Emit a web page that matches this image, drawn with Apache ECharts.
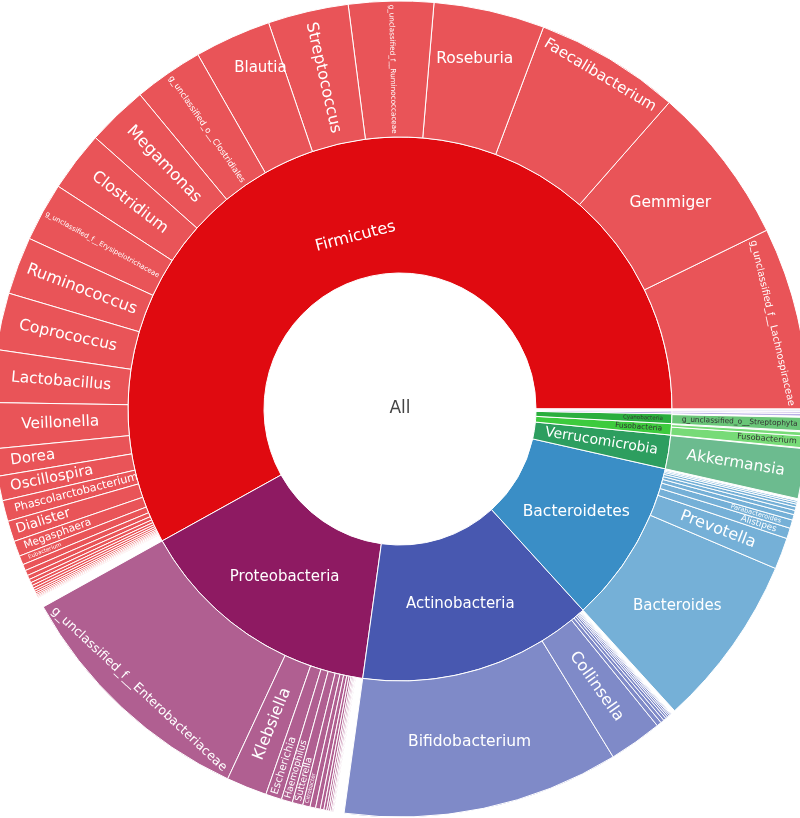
<!DOCTYPE html>
<html>
<head>
<meta charset="utf-8">
<script src="https://cdn.jsdelivr.net/npm/echarts@6/dist/echarts.min.js"></script>
<style>
  html, body { margin: 0; padding: 0; background: #ffffff; }
  #chart { width: 800px; height: 818px; }
</style>
</head>
<body>
<div id="chart"></div>
<script>
// ---------------- DATA (relative abundance, %) ----------------
const rootName = 'All';

const phyla = ['Firmicutes', 'Proteobacteria', 'Actinobacteria', 'Bacteroidetes', 'Verrucomicrobia',
  'Fusobacteria', 'Cyanobacteria', 'Tenericutes', 'Synergistetes', 'Lentisphaerae', 'Euryarchaeota'];
const phylumValues = [58.06, 14.75, 13.94, 9.72, 2.00, 0.67, 0.58, 0.11, 0.08, 0.06, 0.03];

const firmicutesGenera = ['g_unclassified_f__Lachnospiraceae', 'Gemmiger', 'Faecalibacterium', 'Roseburia',
  'g_unclassified_f__Ruminococcaceae', 'Streptococcus', 'Blautia', 'g_unclassified_o__Clostridiales',
  'Megamonas', 'Clostridium', 'g_unclassified_f__Erysipelotrichaceae', 'Ruminococcus', 'Coprococcus',
  'Lactobacillus', 'Veillonella', 'Dorea', 'Oscillospira', 'Phascolarctobacterium', 'Dialister',
  'Megasphaera', 'Eubacterium', 'Anaerostipes', 'Butyricicoccus', 'Lachnospira', 'Enterococcus',
  'Subdoligranulum', 'Holdemania', 'Turicibacter', 'Coprobacillus', 'Anaerotruncus', 'Mitsuokella',
  'Weissella', 'Leuconostoc', 'Pediococcus'];
const firmicutesValues = [7.22, 6.31, 5.75, 4.39, 3.36, 3.19, 3.03, 2.75, 2.42, 2.39, 2.33, 2.28, 2.25,
  2.08, 1.81, 1.08, 0.97, 0.83, 0.82, 0.61, 0.36, 0.25, 0.21, 0.17, 0.14, 0.12, 0.11, 0.10, 0.08, 0.07,
  0.06, 0.05, 0.04, 0.03];

const proteobacteriaGenera = ['g_unclassified_f__Enterobacteriaceae', 'Klebsiella', 'Escherichia',
  'Haemophilus', 'Sutterella', 'Citrobacter', 'Enterobacter', 'Bilophila', 'Desulfovibrio', 'Proteus',
  'Morganella', 'Pseudomonas', 'Acinetobacter', 'Raoultella', 'Serratia'];
const proteobacteriaValues = [10.00, 1.61, 0.64, 0.44, 0.42, 0.29, 0.22, 0.19, 0.14, 0.11, 0.08, 0.07,
  0.06, 0.04, 0.03];

const actinobacteriaGenera = ['Bifidobacterium', 'Collinsella', 'Eggerthella', 'Adlercreutzia',
  'Actinomyces', 'Rothia', 'Slackia', 'Corynebacterium', 'Atopobium', 'Propionibacterium'];
const actinobacteriaValues = [10.94, 2.11, 0.19, 0.14, 0.11, 0.08, 0.07, 0.06, 0.04, 0.03];

const bacteroidetesGenera = ['Bacteroides', 'Prevotella', 'Alistipes', 'Parabacteroides', 'Odoribacter',
  'Butyricimonas', 'Paraprevotella', 'Barnesiella', 'Porphyromonas', 'Rikenella'];
const bacteroidetesValues = [6.86, 1.25, 0.42, 0.33, 0.22, 0.17, 0.14, 0.11, 0.08, 0.06];

const verrucomicrobiaGenera = ['Akkermansia'];
const verrucomicrobiaValues = [1.97];

const fusobacteriaGenera = ['Fusobacterium', 'g_unclassified_f__Fusobacteriaceae'];
const fusobacteriaValues = [0.47, 0.15];

const cyanobacteriaGenera = ['g_unclassified_o__Streptophyta'];
const cyanobacteriaValues = [0.53];

const tenericutesGenera = ['Mycoplasma'];
const tenericutesValues = [0.10];
const synergistetesGenera = ['Cloacibacillus'];
const synergistetesValues = [0.07];
const lentisphaeraeGenera = ['Victivallis'];
const lentisphaeraeValues = [0.05];
const euryarchaeotaGenera = ['Methanobrevibacter'];
const euryarchaeotaValues = [0.03];

const generaByPhylum = [firmicutesGenera, proteobacteriaGenera, actinobacteriaGenera, bacteroidetesGenera,
  verrucomicrobiaGenera, fusobacteriaGenera, cyanobacteriaGenera, tenericutesGenera, synergistetesGenera,
  lentisphaeraeGenera, euryarchaeotaGenera];
const valuesByPhylum = [firmicutesValues, proteobacteriaValues, actinobacteriaValues, bacteroidetesValues,
  verrucomicrobiaValues, fusobacteriaValues, cyanobacteriaValues, tenericutesValues, synergistetesValues,
  lentisphaeraeValues, euryarchaeotaValues];

// ---------------- STYLE ----------------
const FONT = 'DejaVu Sans';
const DARK = '#333333';
const phylumColors = ['#E00A10', '#8E1A62', '#4858B0', '#3A8EC6', '#2D9E5F', '#3DCB3D', '#2AAE3E',
  '#9C8FDB', '#B39DDB', '#A0A0D8', '#8888CC'];

// verticalAlign + lineHeight moves a label along its own "up" axis (radially for tangential/horizontal text)
const labelStyles = {
  'All': { rotate: 0, fontSize: 17, color: '#444444', padding: [0, 0, 0, 136] },
  'Firmicutes': { rotate: 'tangential', fontSize: 16, verticalAlign: 'top', lineHeight: 52 },
  'Proteobacteria': { rotate: 0, fontSize: 15 },
  'Actinobacteria': { rotate: 0, fontSize: 15 },
  'Bacteroidetes': { rotate: 0, fontSize: 15.5 },
  'Verrucomicrobia': { fontSize: 14 },
  'Fusobacteria': { fontSize: 7.4, color: DARK, align: 'right', distance: 9 },
  'Cyanobacteria': { fontSize: 5.5, color: DARK, align: 'right', distance: 9 },
  'g_unclassified_f__Lachnospiraceae': { rotate: 'tangential', fontSize: 9.8, verticalAlign: 'bottom', lineHeight: 84 },
  'Gemmiger': { rotate: 0, fontSize: 15.5 },
  'Faecalibacterium': { rotate: 'tangential', fontSize: 15, verticalAlign: 'bottom', lineHeight: 98 },
  'Roseburia': { rotate: 0, fontSize: 15.5, verticalAlign: 'bottom', lineHeight: 36 },
  'g_unclassified_f__Ruminococcaceae': { fontSize: 7.2 },
  'Streptococcus': { fontSize: 16 },
  'Blautia': { rotate: 0, fontSize: 15, verticalAlign: 'bottom', lineHeight: 62 },
  'g_unclassified_o__Clostridiales': { fontSize: 8.4 },
  'Megamonas': { fontSize: 16.4 },
  'Clostridium': { fontSize: 16 },
  'g_unclassified_f__Erysipelotrichaceae': { fontSize: 6.9 },
  'Ruminococcus': { fontSize: 16.2 },
  'Coprococcus': { fontSize: 15.7 },
  'Lactobacillus': { fontSize: 15.4 },
  'Veillonella': { fontSize: 15.3 },
  'Dorea': { fontSize: 15, align: 'right', distance: 15 },
  'Oscillospira': { fontSize: 14.6, align: 'right', distance: 11 },
  'Phascolarctobacterium': { fontSize: 11.1, align: 'right', distance: 10 },
  'Dialister': { fontSize: 13.5, align: 'right', distance: 6 },
  'Megasphaera': { fontSize: 10.5, align: 'right', distance: 8 },
  'Eubacterium': { fontSize: 5.5, align: 'right', distance: 8 },
  'g_unclassified_f__Enterobacteriaceae': { rotate: 'tangential', fontSize: 12.6, verticalAlign: 'top', lineHeight: 86 },
  'Klebsiella': { fontSize: 16 },
  'Escherichia': { fontSize: 10.5, align: 'right', distance: 3 },
  'Haemophilus': { fontSize: 9.2, align: 'right', distance: 3 },
  'Sutterella': { fontSize: 9.3, align: 'right', distance: 3 },
  'Citrobacter': { fontSize: 5.5, align: 'right', distance: 3 },
  'Bifidobacterium': { rotate: 0, fontSize: 15.5 },
  'Collinsella': { fontSize: 16 },
  'Bacteroides': { rotate: 0, fontSize: 15 },
  'Prevotella': { fontSize: 16 },
  'Alistipes': { fontSize: 8.8, align: 'right', distance: 13 },
  'Parabacteroides': { fontSize: 6.5, align: 'right', distance: 11 },
  'Akkermansia': { fontSize: 15.4 },
  'Fusobacterium': { fontSize: 8.1, color: DARK, align: 'right', distance: 10 },
  'g_unclassified_o__Streptophyta': { fontSize: 7.4, color: DARK }
};

function lighten(hex, opacity) {
  const n = parseInt(hex.slice(1), 16);
  const r = (n >> 16) & 255, g = (n >> 8) & 255, b = n & 255;
  const mix = c => Math.round(c * opacity + 255 * (1 - opacity));
  return 'rgb(' + mix(r) + ',' + mix(g) + ',' + mix(b) + ')';
}
function labelFor(name) {
  return Object.assign({}, labelStyles[name] || {});
}

const total = phylumValues.reduce((a, b) => a + b, 0);

const data = [{
  name: rootName,
  value: total,
  itemStyle: { color: '#ffffff' },
  label: labelFor(rootName),
  children: phyla.map((p, i) => ({
    name: p,
    value: phylumValues[i],
    itemStyle: { color: phylumColors[i] },
    label: labelFor(p),
    children: generaByPhylum[i].map((g, j) => ({
      name: g,
      value: valuesByPhylum[i][j],
      itemStyle: { color: lighten(phylumColors[i], 0.7) },
      label: labelFor(g)
    }))
  }))
}];

const chart = echarts.init(document.getElementById('chart'), null, { renderer: 'canvas' });
chart.setOption({
  animation: false,
  series: [{
    type: 'sunburst',
    center: [400, 409],
    radius: [0, 408],
    startAngle: 0,
    clockwise: false,
    sort: null,
    nodeClick: false,
    emphasis: { disabled: true },
    itemStyle: { borderColor: '#ffffff', borderWidth: 1 },
    label: {
      fontFamily: FONT,
      color: '#ffffff',
      rotate: 'radial',
      minAngle: 1,
      textBorderWidth: 0
    },
    levels: [
      {},
      { r0: 0, r: 136, label: { rotate: 0 } },
      { r0: 136, r: 272 },
      { r0: 272, r: 408 }
    ],
    data: data
  }]
});
</script>
</body>
</html>
